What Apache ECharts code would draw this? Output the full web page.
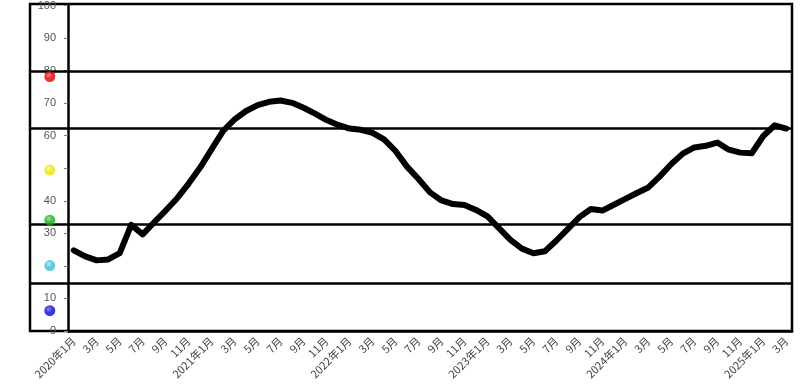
<!DOCTYPE html>
<html><head><meta charset="utf-8">
<script src="https://cdn.jsdelivr.net/npm/echarts@6/dist/echarts.min.js"></script>
<style>html,body{margin:0;padding:0;background:#fff}#c{width:800px;height:388px}</style>
</head><body><div id="c"></div>
<script>
// Months 2020-01 .. 2025-03
const years = [2020, 2021, 2022, 2023, 2024, 2025];
const categories = [];
years.forEach(y => { for (let m = 1; m <= 12; m++) { if (y === 2025 && m > 3) break; categories.push(y + '-' + m); } });
const indexValues = [
  24.8, 22.9, 21.7, 22.0, 23.9, 32.6, 29.7, 33.4, 37.0, 40.8, 45.3, 50.2,
  55.9, 61.5, 65.0, 67.6, 69.4, 70.4, 70.8, 70.1, 68.6, 66.8, 64.8, 63.3,
  62.2, 61.8, 60.9, 58.9, 55.3, 50.5, 46.7, 42.6, 40.1, 39.0, 38.7, 37.2,
  35.2, 31.6, 28.0, 25.3, 23.9, 24.5, 27.8, 31.4, 35.0, 37.5, 37.0, 38.8,
  40.6, 42.4, 44.1, 47.5, 51.3, 54.5, 56.4, 56.9, 57.9, 55.7, 54.8, 54.6,
  59.9, 63.2, 62.2
];
const thresholdLines = [79.5, 62, 32.7, 14.5];
const signalLevels = [77.8, 49.2, 33.9, 20.0, 6.2];
const signalColors = ['#dd0000', '#e6e600', '#16b016', '#3cbcd8', '#0a0ac8'];
const signalLights = ['#ff6060', '#ffff90', '#70e070', '#a0ecff', '#6060ff'];
const yTickLabels = {0:'0',10:'10',20:'',30:'30',40:'40',50:'',60:'60',70:'70',80:'80',90:'90',100:'100'};

function xLabel(c) {
  const [y, m] = c.split('-');
  return m === '1' ? y + '年1月' : m + '月';
}
function ball(i) {
  return { type: 'radial', x: 0.4, y: 0.35, r: 0.65,
    colorStops: [{offset: 0, color: signalLights[i]}, {offset: 0.5, color: signalColors[i]}, {offset: 1, color: signalColors[i]}] };
}

const chart = echarts.init(document.getElementById('c'));
chart.setOption({
  animation: false,
  grid: [
    {left: 30, right: 8, top: 4, bottom: 57, show: true, borderColor: '#000', borderWidth: 2.5, backgroundColor: 'transparent'},
    {left: 68, right: 8, top: 4, bottom: 57}
  ],
  xAxis: [
    {gridIndex: 0, type: 'value', min: 0, max: 100, show: false},
    {gridIndex: 1, type: 'category', data: categories, boundaryGap: true,
     axisLine: {lineStyle: {color: '#000', width: 2.5}},
     axisTick: {interval: 0, length: 4, lineStyle: {color: '#777'}},
     axisLabel: {interval: 1, rotate: 45, formatter: xLabel, fontSize: 11, color: '#444', margin: 8,
                 fontFamily: 'Noto Sans CJK SC'}}
  ],
  yAxis: [
    {gridIndex: 0, type: 'value', min: 0, max: 100, show: false},
    {gridIndex: 1, type: 'value', min: 0, max: 100, interval: 10,
     splitLine: {show: false},
     axisLine: {show: true, lineStyle: {color: '#000', width: 2.5}},
     axisTick: {show: true, length: 4, lineStyle: {color: '#777'}},
     axisLabel: {margin: 12, fontSize: 11, color: '#555', fontFamily: 'Liberation Sans',
                 formatter: v => yTickLabels[v] ?? String(v)}}
  ],
  series: [
    {type: 'scatter', xAxisIndex: 0, yAxisIndex: 0, symbolSize: 11, z: 5,
     data: signalLevels.map((v, i) => ({value: [2.6, v], itemStyle: {color: ball(i)}})),
     markLine: {silent: true, symbol: ['none', 'none'], label: {show: false},
       lineStyle: {color: '#000', width: 2.5, type: 'solid'},
       data: thresholdLines.map(v => ({yAxis: v}))}},
    {type: 'line', xAxisIndex: 1, yAxisIndex: 1, data: indexValues, smooth: false,
     showSymbol: false, lineStyle: {color: '#000', width: 6, join: 'round', cap: 'round'}, z: 4}
  ]
});
</script></body></html>
